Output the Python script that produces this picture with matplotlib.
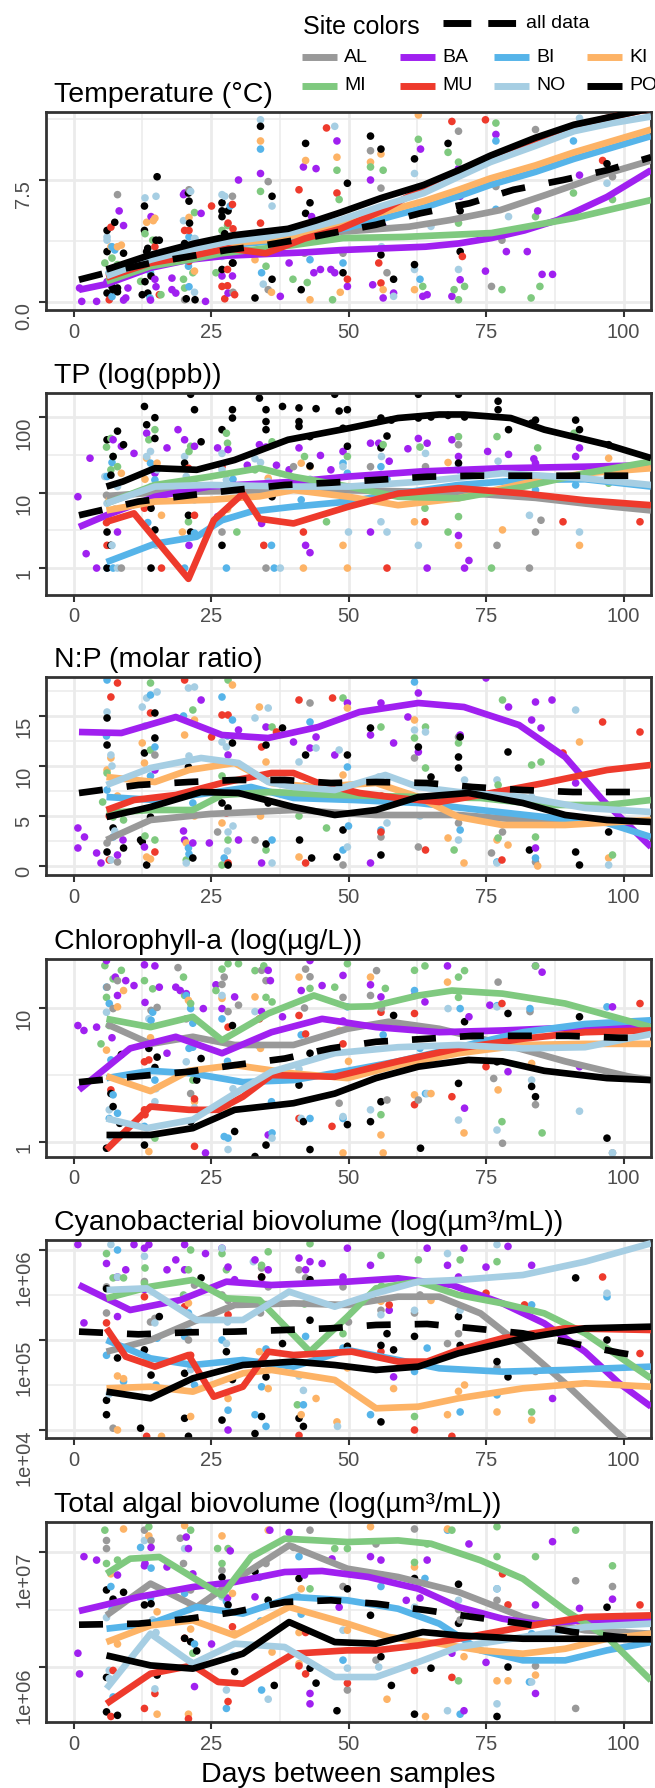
import numpy as np
import matplotlib
matplotlib.use("Agg")
import matplotlib.pyplot as plt
from matplotlib.lines import Line2D
from matplotlib.ticker import FixedLocator, NullFormatter

plt.rcParams['font.family'] = ['Liberation Sans', 'DejaVu Sans']

W, H = 655, 1788

sites = ["AL", "BA", "BI", "KI", "MI", "MU", "NO", "PO"]
site_colors = ["#999999", "#A020F0", "#56B4E9", "#FDB366",
               "#7FC97F", "#EE3A2C", "#A6CEE3", "#000000"]

# ---------------- Temperature (deg C) ----------------
temp_points = {
    "AL": [(8, 6.6), (35.4, 7.4), (35.4, 0.76), (49, 3.0), (54, 9.3), (55.9, 7.0), (70, 10.5), (76.8, 7.1),
           (77.9, 3.8), (76, 0.96), (84, 10.6), (98, 7.7), (28.9, 6.5), (20.2, 0.14)],
    "BA": [(1.5, 0.04), (4.2, 0.04), (1.1, 0.86), (9.1, 4.7), (9.5, 0.25), (9.9, 0.86), (8.3, 5.6), (14.1, 5.25),
           (14.8, 1.4), (17.9, 1.47), (20.2, 6.7), (19.4, 2.7), (18.6, 0.55), (24, 0.04), (23.2, 5.45), (17.9, 0.76),
           (28.9, 1.6), (28.1, 0.55), (30, 7.5), (34, 7.9), (37.6, 0.35), (39.2, 2.4), (41.8, 8.3), (44.1, 8.2),
           (43.3, 5.25), (43.7, 1.8), (44.9, 2.0), (46.8, 2.0), (47.9, 9.9), (47.5, 1.8), (49.8, 0.96), (54, 7.5),
           (56.3, 4.65), (54.4, 1.06), (56.3, 0.25), (58.2, 0.55), (63.1, 9.4), (63.5, 0.35), (64.3, 0.45),
           (70, 8.2), (70.3, 6.5), (70.3, 1.37), (68.8, 0.35), (76.8, 10.3), (78.7, 3.1), (74.9, 1.9), (82.5, 3.1),
           (85.2, 1.7), (87.1, 1.7), (84.4, 5.6), (92, 7.8)],
    "BI": [(6.5, 1.8), (13.9, 0.25), (20.9, 2.2), (34, 9.4), (34.2, 1.8), (43, 2.6), (76.8, 9.9), (76.8, 5.7),
           (90.9, 9.9), (7.5, 3.2), (21, 4.0)],
    "KI": [(6.8, 3.4), (8.7, 3.5), (13.3, 4.9), (14.8, 5.15), (27.8, 3.8), (34, 9.9), (33, 2.6), (42.2, 8.7),
           (43, 0.14), (47.9, 8.9), (54, 8.6), (55.9, 9.1), (56.3, 0.76), (62.7, 11.5), (62, 0.76), (21, 5.2)],
    "MI": [(5.7, 2.4), (14.4, 3.8), (12.2, 1.27), (15.9, 0.45), (21.7, 1.8), (20.2, 0.86), (27, 4.4), (25.9, 1.8),
           (34, 6.8), (39.9, 1.4), (47.9, 8.1), (48.3, 6.3), (47.1, 0.14), (54, 8.3), (56.3, 8.1), (62.7, 10),
           (63.5, 0.96), (68.1, 9.2), (70, 8.6), (70, 4.85), (69.2, 0.76), (70, 0.14), (71.1, 0.96), (76.8, 11.0),
           (77.9, 0.76), (84, 5.25), (84.8, 0.96), (83.2, 0.25), (90.9, 6.7), (98, 6.3)],
    "MU": [(6.8, 4.6), (6.5, 0.14), (14.8, 3.4), (12.9, 2.2), (15.6, 0.45), (20.2, 4.4), (25.1, 5.9), (28.9, 6.0),
           (28.1, 4.85), (27, 0.96), (29.3, 0.45), (34, 4.85), (41, 6.9), (47.9, 6.7), (46, 10.7), (49.8, 1.4),
           (55.5, 2.4), (55.9, 1.17), (70.7, 2.8), (68.8, 11.1), (74.9, 11.2), (96.2, 8.7)],
    "NO": [(6.1, 3.8), (15, 6.5), (21.3, 6.8), (22.1, 3.9), (27, 6.6), (34, 11.2), (36.1, 5.9), (47.5, 10.8),
           (58.2, 0.35), (62, 7.9), (65, 4.65), (62, 2.0), (79.1, 5.25), (92, 11.3), (97, 7.3)],
    "PO": [(6.1, 4.4), (9.1, 3.0), (7.2, 0.76), (8, 0.86), (6.1, 0.55), (7.5, 4.9), (12.9, 5.9), (15.2, 7.7),
           (12.9, 4.4), (13.3, 3.1), (15.6, 3.8), (14.1, 1.6), (12.5, 0.45), (20.9, 6.7), (21.1, 4.85), (20.2, 3.6),
           (22.1, 0.14), (27, 6.1), (28.1, 5.6), (27, 5.25), (28.9, 2.4), (27, 2.0), (34, 10.8), (36.1, 6.5),
           (36.1, 1.4), (33, 0.25), (42.2, 9.75), (43, 6.1), (42.2, 5.45), (41.4, 0.76), (49.8, 7.3), (49, 1.8),
           (54, 10.2), (55.9, 9.4), (55.9, 2.9), (58.2, 1.4), (62, 8.8), (62, 2.3), (68.1, 9.75), (70.3, 5.6),
           (70.3, 3.1), (97, 8.5)],
}
temp_points_extra = [
    (6.1, 4.0, "NO"), (7, 3.4, "BI"), (8, 3.4, "KI"), (6.1, 3.1, "PO"), (7, 2.7, "MI"), (8, 2.3, "MI"),
    (9.1, 1.8, "KI"), (6.1, 1.25, "BA"), (7, 0.94, "PO"), (8, 0.63, "PO"), (7, 0.33, "BI"), (9.1, 0.12, "BA"),
    (13, 6.4, "NO"), (14.5, 5.0, "KI"), (13, 4.2, "MI"), (15, 3.8, "PO"), (13.5, 3.3, "PO"), (15, 2.8, "NO"),
    (13, 2.2, "BI"), (14, 1.8, "BI"), (13, 1.25, "PO"), (15, 0.94, "BA"), (13.5, 0.55, "PO"), (14, 0.12, "BA"),
    (21, 6.9, "AL"), (20, 6.6, "BA"), (21, 6.2, "PO"), (22, 5.5, "MI"), (20, 5.0, "NO"), (21, 4.4, "MU"),
    (22, 3.9, "NO"), (20, 3.0, "PO"), (21, 2.5, "MU"), (22, 1.9, "KI"), (20, 1.4, "MI"), (21, 0.94, "BI"),
    (22, 0.6, "NO"), (20.5, 0.2, "PO"), (27.5, 6.5, "NO"), (28.5, 5.9, "BI"), (27, 5.6, "PO"), (28, 4.7, "MI"),
    (29, 4.5, "MU"), (27.5, 4.2, "PO"), (28, 3.3, "KI"), (27, 2.8, "NO"), (29, 2.4, "PO"), (28, 2.0, "MU"),
    (27, 1.6, "BA"), (28, 1.0, "MU"), (29, 0.6, "AL"), (27.5, 0.2, "MU"), (35, 2.2, "MI"), (34.5, 1.1, "NO"),
    (36, 0.6, "KI"), (42, 3.0, "AL"), (42.5, 1.2, "MI"), (49, 2.4, "BI"), (48.5, 0.6, "KI"), (56, 3.4, "NO"),
    (57, 1.8, "AL"), (63, 1.4, "BI"), (70, 2.0, "NO")]
temp_lines = {
    "AL": [(6, 1.9), (14, 2.8), (21, 3.3), (28, 3.7), (35, 3.9), (42, 4.2), (50, 4.35), (61, 4.63), (68.5, 5.04),
           (77.6, 5.65), (86, 6.6), (97, 7.9), (105, 8.7)],
    "BA": [(1, 0.75), (6, 1.1), (14, 2.1), (21, 2.6), (28, 2.85), (35, 2.95), (42, 3.05), (49, 3.2), (64, 3.4),
           (70, 3.6), (76, 3.93), (82, 4.4), (88, 5.04), (97, 6.46), (105, 8.1)],
    "BI": [(6, 1.6), (14, 2.5), (21, 3.0), (28, 3.5), (35, 3.7), (42, 4.0), (49, 4.5), (56, 5.1), (63.7, 5.8),
           (70, 6.5), (75.8, 7.2), (84, 8.0), (91, 8.8), (98, 9.5), (105, 10.2)],
    "KI": [(6, 1.6), (14, 2.5), (21, 3.0), (28, 3.6), (35, 3.8), (42, 4.2), (49, 4.8), (56, 5.5), (63.7, 6.2),
           (70, 6.9), (75.8, 7.6), (84, 8.4), (91, 9.2), (98, 9.9), (105, 10.6)],
    "MI": [(6, 1.27), (14, 2.2), (21, 2.6), (27, 3.0), (35, 3.3), (40, 3.5), (49, 3.93), (60, 4.0), (76, 4.24),
           (91, 5.16), (105, 6.27)],
    "MU": [(6, 1.5), (14, 2.4), (21, 2.8), (28, 3.3), (35, 3.0), (42, 3.9), (48.5, 4.5), (56, 5.6), (63.7, 7.0),
           (70, 8.0), (76, 8.9), (84, 10.0), (91, 10.8), (98, 11.4), (105, 11.9)],
    "NO": [(6, 1.6), (14, 2.6), (21, 3.2), (28, 3.7), (35, 4.0), (40, 4.3), (48.5, 5.04), (56, 5.9), (63.7, 6.7),
           (70, 7.7), (75.8, 8.6), (84, 9.6), (91, 10.5), (98, 11.0), (105, 11.4)],
    "PO": [(6, 2.0), (14, 2.9), (22, 3.6), (29, 4.1), (39, 4.5), (44, 5.0), (48.5, 5.5), (56, 6.4), (63.7, 7.2),
           (70, 8.1), (75.8, 9.0), (84, 10.1), (91, 10.9), (98, 11.4), (105, 11.9)],
}
temp_all = [(1, 1.37), (6, 1.8), (14, 2.4), (21, 2.8), (28, 3.2), (35, 3.5), (42, 3.9), (48, 4.3), (55, 4.75),
            (63, 5.45), (72, 6.07), (80, 6.9), (89, 7.5), (97, 8.1), (105, 8.9)]

# ---------------- TP (ppb, log axis) ----------------
tp_points = {
    "AL": [(6, 9.2), (8.7, 1), (27, 3), (35, 1), (40, 22), (54, 22), (64, 22), (70, 43), (77, 2), (82.9, 1),
           (84, 3), (85, 4.3)],
    "BA": [(0.8, 8.8), (2.3, 1.55), (3, 28.5), (4.2, 1), (7.2, 50), (8.7, 41), (11, 33), (13.3, 61), (14.8, 18),
           (17, 39), (19, 68), (20.2, 50), (20.2, 8.8), (22, 41), (26.2, 39), (26.2, 4.8), (28.1, 37), (31.6, 23),
           (33.8, 43), (34.2, 3.9), (36.9, 23), (39.2, 20), (41, 39), (42.2, 2), (43, 1.6), (44.9, 31), (46.8, 20),
           (54, 45), (54, 3), (55.5, 45), (57.4, 26), (60.8, 38), (62.7, 52), (64.3, 45), (68.8, 50), (70, 2.7),
           (71.1, 1), (71.9, 1.26), (75.3, 35), (79.1, 32), (84, 24.5), (83.7, 28), (92, 39), (91.3, 30), (64.3, 1)],
    "BI": [(6.1, 16.3), (6.1, 1), (7.2, 1), (14, 24.5), (14.8, 14.7), (20.2, 1), (22, 2.9), (27.8, 1), (36, 2),
           (36.5, 1), (41.4, 8), (43, 13.2), (49, 24.5), (49.8, 18), (55.9, 22), (62.7, 18), (70, 20), (84, 10.8),
           (91.3, 12.6)],
    "KI": [(8.7, 18), (13.3, 28.5), (15.2, 24.5), (16, 5), (19.8, 3), (27, 4.8), (35.4, 15.5), (41.4, 24.5),
           (43, 22), (41.8, 1), (49, 2), (49.8, 1), (62, 4.1), (68.1, 25), (70, 2), (78, 3.2), (92, 2), (97.3, 28.5)],
    "MI": [(6.8, 52), (7.2, 30), (6.8, 20), (8, 22), (13.7, 50), (14.8, 68), (21.3, 41), (20.9, 4.1), (27.8, 61),
           (29.7, 3), (33, 20), (36.1, 47), (46, 4.1), (49.8, 30), (56.3, 43), (63.9, 6.2), (68.1, 3), (70, 4.8),
           (70, 55), (76, 1), (77, 55), (84.4, 39), (91, 61), (97.3, 13.3)],
    "MU": [(6.1, 2), (12.9, 6.2), (20.9, 21), (22, 5), (16, 1), (27, 22), (34.6, 2), (41.8, 3), (57, 1),
           (63.9, 4.1), (89, 4.1), (103, 4.1)],
    "NO": [(5.7, 16.3), (6.1, 7.2), (8, 1), (13.3, 30), (14.1, 12), (15.2, 20), (20.2, 30), (20.5, 16.3),
           (22.1, 10.2), (27, 33), (27.8, 14.7), (33, 28), (35.4, 14), (37.6, 1), (49, 22), (50, 3), (55.5, 16.3),
           (55.9, 4.1), (57, 3), (62.7, 2), (64, 33), (70, 22), (77.2, 26), (82.9, 5), (92, 3), (97, 16.3)],
    "PO": [(12.9, 138), (13.3, 79), (14.8, 98), (14.8, 52), (6.1, 50), (8, 65), (9.1, 43), (7.2, 30), (6.8, 17),
           (6.1, 3), (6.1, 1), (6.8, 2), (14.1, 1), (14.8, 3.2), (14.1, 6.2), (21.3, 200), (22, 125), (20.2, 24.5),
           (20.9, 5), (21.3, 3), (23.2, 47), (27, 68), (28.9, 125), (28.9, 97), (27, 2), (33.8, 178), (35, 125),
           (35, 87), (35, 68), (36.1, 8.8), (38, 138), (41, 132), (41, 87), (41, 75), (43, 22.5), (44.1, 129),
           (43, 55), (47.5, 200), (48.3, 120), (49.8, 125), (49.8, 41), (49, 71), (55.9, 97), (55.9, 39),
           (57.8, 91), (57, 56), (62.7, 97), (62.7, 200), (65, 100), (68.1, 105), (70, 200), (71.1, 100),
           (70, 24.5), (77.2, 162), (77.2, 125), (79.1, 68), (83.3, 83), (84, 91), (91.3, 91), (92, 68), (97.3, 43)],
}
tp_points_extra = [
    (6, 40, "MI"), (7, 25, "BI"), (8, 12, "NO"), (6.5, 8, "KI"), (7.5, 6, "AL"), (6, 4, "MU"), (8, 3, "BA"),
    (7, 2, "NO"), (14, 35, "NO"), (13, 15, "KI"), (15, 10, "AL"), (14, 7, "MU"), (13.5, 4, "BI"), (15, 2, "NO"),
    (21, 35, "MI"), (20, 12, "KI"), (22, 8, "NO"), (21, 2, "BA"), (28, 45, "MI"), (27, 20, "NO"), (29, 15, "BI"),
    (28, 6, "KI"), (35, 40, "BA"), (34, 25, "NO"), (36, 12, "AL"), (42, 30, "MI"), (43, 15, "NO"), (49, 35, "BA"),
    (50, 12, "KI"), (56, 30, "NO"), (57, 15, "BI"), (63, 40, "MI"), (70, 30, "BA"), (77, 20, "NO"), (84, 15, "BI")]
tp_lines = {
    "AL": [(6, 9), (14.8, 10), (28, 10.5), (42, 11), (56, 10.5), (70, 10), (84, 8.5), (98, 6.5), (105, 5.8)],
    "BA": [(1, 3.5), (6, 5.0), (14.8, 8.8), (24.7, 12), (40, 13.9), (50, 16.3), (63, 19), (78, 21), (93, 22),
           (105, 23)],
    "BI": [(6, 1.2), (14.8, 2.1), (22.4, 2.6), (27, 4.3), (32.3, 5.6), (40, 6.5), (50, 7.6), (59, 9.7), (70, 12.6),
           (82, 14.7), (93, 15), (105, 12)],
    "KI": [(6, 5.8), (14.8, 7.6), (24.7, 8), (33.8, 8.9), (40, 10.8), (50, 8.8), (59, 6.8), (70, 8.4), (82, 13.2),
           (93, 18), (105, 21)],
    "MI": [(6, 7.2), (14.8, 12.6), (24.7, 16.2), (33.8, 21), (40, 16.2), (50, 12), (59, 8.8), (70, 8.4), (82, 12),
           (93, 18), (105, 25.7)],
    "MU": [(6, 4.1), (11, 5.3), (20.9, 0.72), (25.5, 4.3), (30.8, 9.7), (33.8, 4.5), (40, 3.9), (50, 6.5),
           (59, 9.7), (70, 11.4), (82, 9.7), (93, 7.9), (105, 6.8)],
    "NO": [(6, 7.2), (14.8, 12), (24.7, 12.6), (40, 12), (50, 12), (63, 13.9), (78, 18), (93, 15.4), (105, 12.6)],
    "PO": [(6, 12), (9, 14), (14.8, 21), (22.4, 20), (29.3, 27), (39, 50), (50, 71), (59, 97), (66.5, 108),
           (71, 108), (79.5, 97), (85.6, 68), (97, 43), (105, 28.6)],
}
tp_all = [(1, 5), (11.8, 7.6), (21.7, 9.3), (29.3, 10.8), (38.4, 12.6), (46.8, 13.5), (55, 14.7), (64.3, 16.2),
          (72.6, 16.7), (105, 16.7)]

# ---------------- N:P (molar ratio) ----------------
np_points = {
    "AL": [(6.1, 2.3), (8, 0.4), (14.8, 11.1), (26.2, 3.4), (28.1, 7.4), (33, 2.6), (43, 16.3), (49, 0.1),
           (55.9, 2.9), (62, 10.8), (62.7, 1.9), (70, 12.9), (70, 4.3), (76, 1.3), (78, 3.4), (84, 0.4)],
    "BA": [(0.8, 3.8), (0.8, 1.8), (2, 2.9), (4.2, 1.3), (5, 0.3), (8, 1.1), (9, 2.6), (12.9, 1.9), (14.8, 9.6),
           (20.2, 2.6), (21.7, 2.3), (23.2, 16.6), (24.7, 2.3), (28.1, 11.1), (30, 13.6), (30, 2.6), (34.2, 0.3),
           (35, 13.9), (40, 12.4), (43, 11.8), (44.1, 12.9), (47.5, 11.1), (49.8, 16.3), (54, 13.1), (54, 0.3),
           (55.9, 16.3), (58.2, 12.3), (60.8, 14.9), (62.7, 17.3), (62.7, 11.4), (70.3, 13.1), (75, 18.8),
           (79.1, 15.9), (83.3, 14.6), (84, 16.4), (85, 13.8), (87, 16.6), (91.3, 8.3), (84, 1.8)],
    "BI": [(6.1, 18.6), (6.1, 7.6), (7.2, 2.9), (14, 17.1), (14.8, 11.9), (20.9, 1.8), (21.7, 6.3), (27, 16.9),
           (28.9, 14.6), (27.4, 0.8), (36.1, 2.6), (43, 14.4), (49, 1.6), (49.8, 9.9), (62, 18.4), (55.9, 3.6),
           (70.3, 3.6), (84, 0.8), (77, 0.4)],
    "KI": [(6.8, 10.8), (6.1, 9.6), (12.5, 12.3), (12.9, 10.3), (13.3, 0.9), (20.2, 13.1), (22, 14.6),
           (20.5, 2.3), (27, 4.3), (28.9, 18.1), (33.8, 15.9), (35, 10.4), (41, 0.9), (49, 9.1), (49.8, 15.8),
           (62, 14.6), (68.1, 2.8), (71, 0.3), (77, 2.6), (79, 2.1), (84.4, 0), (92, 12.4), (97.3, 0.8)],
    "MI": [(5.3, 6.4), (6.1, 9.3), (7.2, 4.9), (9.1, 4.6), (14, 18.3), (14, 11.6), (14.8, 2.6), (21.7, 15.6),
           (20.5, 0.6), (28.1, 18.6), (28.1, 2.6), (27, 0.1), (36.1, 13.9), (35, 1.6), (46, 3.8), (49, 16.8),
           (55.9, 13.9), (62, 12.8), (64, 13.9), (64, 9.8), (70, 12.3), (69.2, 1.6), (78, 16.6), (77.2, 8.1),
           (77.2, 2.8), (83.3, 10.1), (85, 10.4), (84, 2.9), (98, 1.1)],
    "MU": [(6.8, 16.9), (8, 18.3), (14, 15.3), (14.8, 1.4), (20.2, 18.6), (27, 15.1), (28.1, 15.1), (27.8, 5.3),
           (28.1, 0.3), (25.1, 12.9), (34.2, 11.9), (36.9, 13.4), (41, 16.6), (42.2, 0.3), (47.1, 16.8),
           (55.9, 3.4), (64, 1.6), (77.9, 0.6), (89, 11.3), (96.2, 14.4), (103, 13.4)],
    "NO": [(6.1, 15.4), (6.8, 11.1), (6.8, 0.6), (12.5, 15.9), (13.3, 16.8), (15.2, 17.4), (20.9, 17.8),
           (22, 17.9), (20.5, 0.3), (27, 12.4), (27.8, 11.9), (28.1, 3.4), (33, 14.8), (35.4, 15.8), (36.1, 0.3),
           (41, 10.4), (44.1, 11.8), (48.3, 11.6), (49.8, 1.9), (55.5, 8.9), (57, 4.3), (62, 13.6), (64, 13.4),
           (70, 2.6), (71.1, 8.6), (77, 8.6), (77, 0.3), (83.3, 6.9), (91.3, 15.6), (97.3, 0.1)],
    "PO": [(6.1, 14.8), (6.1, 12.1), (7.2, 3.8), (6.1, 1.4), (9.1, 1.8), (14.8, 15.3), (14.8, 12.8), (12.9, 11.3),
           (14, 4.9), (12.5, 2.4), (13.3, 0.1), (12.2, 2.6), (20.9, 9.9), (20.9, 7.3), (21.7, 0.8), (28.9, 12.3),
           (27, 6.3), (28.1, 5.8), (28.1, 0.1), (35, 12.1), (35.4, 6.3), (38, 13.8), (41.1, 2.6), (42.2, 11.1),
           (43.3, 0.8), (47.9, 0.9), (49, 3.6), (49.8, 11.1), (54, 13.8), (55.9, 1.1), (62.7, 11.9), (65, 8.9),
           (70, 10.9), (70, 9.8), (70.3, 12.9), (79, 11.4), (82.9, 1.6), (91.3, 1.4), (92, 0.1), (97.3, 3.4)],
}
np_points_extra = [
    (6, 13, "BI"), (7, 10, "NO"), (8, 7, "KI"), (6.5, 5, "MU"), (7.5, 3.5, "NO"), (13, 14, "NO"), (14, 9, "BI"),
    (15, 6, "AL"), (13, 3, "MI"), (20, 15, "BI"), (21, 11, "NO"), (22, 5, "KI"), (20, 3.5, "BA"), (28, 13, "BI"),
    (27, 9, "MI"), (29, 4, "NO"), (35, 9, "NO"), (34, 5, "KI"), (42, 8, "BI"), (41, 5, "MI"), (49, 7, "NO"),
    (50, 4, "BI"), (56, 7, "MU"), (63, 5, "NO"), (70, 7, "KI"), (6.5, 0.6, "MU"), (14, 0.7, "KI"),
    (21, 1.2, "BI"), (28, 1.5, "NO"), (35, 2.2, "PO")]
np_lines = {
    "AL": [(6, 2.6), (14, 4.6), (24.7, 5.2), (40, 5.6), (55, 5.1), (70, 5.1), (82, 4.6), (105, 4.5)],
    "BA": [(1, 13.4), (8.7, 13.3), (18.6, 14.9), (27, 13.1), (35.4, 12.8), (44.5, 13.9), (52, 15.4), (62.7, 16.3),
           (71, 15.9), (81, 14.1), (89.4, 10.9), (96.2, 6.6), (105, 1.9)],
    "BI": [(6, 6.9), (14.8, 6.6), (24.7, 7.3), (32.3, 7.9), (40, 6.8), (51, 6.6), (62.7, 6.3), (74, 5.6),
           (85.6, 4.9), (97, 4.3), (105, 2.9)],
    "KI": [(6, 8.9), (14.8, 8.4), (21, 9.6), (29.3, 10.3), (36, 8.3), (43.7, 7.9), (55, 8.3), (62.7, 6.9),
           (70, 4.9), (78, 4.1), (89.4, 4.1), (105, 4.6)],
    "MI": [(6, 5.3), (14, 5.6), (21.7, 5.6), (27, 7.1), (36, 7.4), (47.5, 7.1), (62.7, 6.9), (74, 6.8),
           (85.6, 6.1), (97, 6.1), (105, 6.6)],
    "MU": [(6, 5.6), (11, 6.6), (18.6, 7.1), (27, 8.3), (36, 9.3), (40, 9.3), (44.5, 8.3), (52, 7.3), (59, 6.8),
           (66.5, 6.4), (74, 7.1), (85.6, 8.3), (97, 9.6), (105, 10.1)],
    "NO": [(6, 8.1), (14, 9.8), (23.2, 10.8), (30, 10.3), (35.4, 8.4), (40, 7.9), (47.5, 7.6), (56.7, 9.1),
           (62.7, 7.9), (70, 7.4), (81.7, 6.9), (93, 5.8), (105, 5.4)],
    "PO": [(6, 4.9), (14, 5.9), (23.2, 7.4), (30, 7.3), (40, 5.9), (47.5, 5.1), (55, 5.6), (62.7, 6.9),
           (71.8, 7.3), (81.7, 6.3), (89.4, 5.1), (97, 4.6), (105, 4.4)],
}
np_all = [(1, 7.3), (11.8, 8.1), (21, 8.4), (29.3, 8.6), (38.4, 8.6), (46.8, 8.3), (55, 8.4), (64.3, 8.3),
          (72.6, 7.9), (81.7, 7.6), (90.8, 7.4), (105, 7.4)]

# ---------------- Chlorophyll-a (ug/L, log axis) ----------------
chl_points = {
    "AL": [(6.1, 14.3), (7.2, 9.9), (8, 16), (14.1, 9.6), (15.2, 10.1), (19, 20), (20.5, 8.3), (21.3, 2.3),
           (27.4, 17), (28.1, 9.4), (30, 10.5), (34.2, 19.1), (35, 16), (42.2, 19.5), (43, 17.1), (49, 12),
           (48.3, 1.95), (54, 12.4), (55.1, 19), (57, 2.06), (62.7, 2.06), (71.1, 6.6), (77.2, 15.6), (78, 0.98),
           (83, 9.4), (84, 1.9), (98, 0.83), (76.4, 2.98)],
    "BA": [(0.8, 7.4), (1.9, 6.8), (4.2, 7.2), (6, 22.6), (7.6, 17), (8, 12.4), (9.5, 16), (11, 14.7), (12.9, 21),
           (14.8, 20.6), (15.6, 14.3), (17, 4.6), (18.6, 14.3), (19.4, 13.5), (20.5, 12.8), (23.6, 9.9), (24, 0.83),
           (25.9, 14.9), (27, 9.9), (29.3, 12.1), (34.2, 9.4), (35.4, 19.1), (35.8, 16), (35.4, 1.13), (38, 8.6),
           (41.4, 13.5), (43, 22.6), (45.2, 14.7), (49, 17.5), (54, 14.9), (55.9, 12.1), (62, 12.4), (63.9, 11.1),
           (68, 20.6), (71.9, 8.6), (71.1, 1.79), (75.7, 10.5), (79, 3.35), (84, 20.6), (85.2, 18.5), (98, 10.2),
           (92, 3.65)],
    "BI": [(6, 14.3), (6.5, 10.8), (6.8, 4.1), (7.2, 2.25), (8, 1.64), (12.9, 1.31), (14.1, 8.1), (14.4, 9.3),
           (14.8, 2.9), (20.5, 12.4), (21.3, 9.9), (21.7, 7.7), (21.7, 5.1), (27, 8.3), (27.4, 1.1), (28.1, 1.07),
           (33.5, 5.3), (36.1, 1.17), (41.4, 6.3), (43, 1.5), (49.8, 10.2), (49, 1.5), (56.3, 6.3), (62, 13.5),
           (64, 2.3), (70.3, 9.9), (77, 10.4), (83, 9.9), (97, 10.2)],
    "KI": [(6, 4.85), (8, 10.2), (9.1, 13.5), (13.7, 0.85), (20.9, 11.4), (22, 2.0), (27, 11.8), (28.1, 1.74),
           (33, 12.1), (41, 17), (48.3, 6.8), (49, 0.83), (54, 17), (55.9, 1.13), (56.3, 0.83), (62, 2.25),
           (65, 2.3), (68, 15.6), (71, 1.17), (77.2, 2.45), (83.3, 3.86)],
    "MI": [(5, 5.4), (5.7, 20.7), (6.5, 7.4), (7.2, 16.5), (8.7, 19.1), (12.9, 16), (14.4, 13.9), (14.8, 1.07),
           (20.2, 12.4), (21.3, 10.8), (21.7, 2.9), (25.9, 13.5), (27, 19.5), (28.1, 21.4), (30, 21.4), (33, 19),
           (34.6, 20.6), (36.1, 11.1), (43, 14), (47.5, 14.3), (49.8, 21.4), (55.9, 1.6), (56.7, 14), (62, 19.1),
           (63.9, 20.6), (70, 17), (71.1, 19), (77.9, 1.42), (84, 20.6), (85.2, 1.17)],
    "MU": [(6.8, 2.45), (12.9, 3.97), (13.7, 4.1), (12.9, 1.74), (22, 0.93), (22, 2.1), (28.1, 7.2), (33.8, 8.3),
           (41, 8.8), (42.2, 6.4), (41, 1.5), (47, 1.31), (49, 5.4), (55.9, 9.3), (62, 9.1), (62, 1.9), (68.8, 2.18),
           (77.9, 10.8), (75, 3.65), (103, 10.8)],
    "NO": [(6, 9.3), (6.5, 1.74), (6.8, 1.1), (13.7, 8.3), (14.8, 2.0), (20.5, 3.97), (21.3, 1.42), (27, 12.4),
           (28.1, 0.88), (33, 9.4), (36.1, 1.07), (41.4, 1.5), (49, 1.55), (54, 1.74), (62, 7.2), (64.3, 2.3),
           (68.1, 9.9), (70, 1.46), (77, 1.23), (77, 10.2), (83.3, 2.9), (92, 1.7), (98, 0.83)],
    "PO": [(6, 0.9), (6.8, 2.3), (7.2, 1.84), (8.4, 1.38), (8.7, 4.5), (12.9, 0.95), (13.7, 5), (15.2, 4.3),
           (14.8, 3.6), (21.3, 1.42), (22.4, 2.9), (23.2, 4.2), (27.8, 2.0), (28.9, 7.4), (29.3, 1.2), (33, 0.78),
           (35, 0.95), (41, 2.66), (41.8, 1.42), (43, 4.6), (43, 0.88), (49.8, 1.35), (54, 1.42), (55.9, 2.0),
           (58.2, 8.8), (63.1, 0.9), (70, 2.74), (71.1, 7.9), (77, 3.97), (79, 9.1), (84, 2.18), (92, 8.6),
           (97, 1.07), (83.3, 2.6)],
}
chl_points_extra = [
    (6, 12, "MI"), (7, 6, "BA"), (8, 3, "NO"), (6.5, 1.5, "BI"), (13, 11, "BA"), (14, 6, "KI"), (15, 2.5, "NO"),
    (13, 1.6, "MU"), (20, 17, "MI"), (21, 5, "BI"), (22, 1.8, "NO"), (27, 15, "AL"), (28, 4, "BI"),
    (29, 2.5, "NO"), (35, 12, "MI"), (34, 5, "KI"), (36, 2, "BI"), (42, 10, "AL"), (41, 3.5, "NO"), (49, 8, "BA"),
    (50, 4, "KI"), (56, 10, "AL"), (63, 5, "BI"), (70, 12, "MI")]
chl_lines = {
    "AL": [(6, 7.6), (14, 5.4), (21.7, 6.1), (29.3, 5.3), (40, 5.3), (49.8, 7.0), (57.3, 7.9), (66.5, 7.0),
           (78, 5.4), (89.4, 4.0), (100.7, 3.1), (105, 2.9)],
    "BA": [(1, 2.45), (10.3, 5.0), (18.6, 6.1), (27, 4.6), (36, 6.6), (45.2, 8.3), (55, 7.2), (66.5, 6.6),
           (78, 6.8), (93, 7.2), (105, 7.2)],
    "BI": [(6, 3.0), (14, 3.4), (21.7, 3.25), (30.8, 2.8), (40, 2.9), (49.8, 3.4), (59, 4.0), (70, 5.1),
           (81.7, 6.6), (93, 7.6), (105, 8.1)],
    "KI": [(6, 3.1), (14, 2.4), (21, 3.4), (29.3, 3.75), (40, 3.25), (49.8, 3.0), (59, 3.75), (70, 4.6),
           (81.7, 5.3), (93, 5.4), (105, 5.4)],
    "MI": [(6, 8.3), (14, 7.2), (21.7, 8.6), (27, 5.75), (35.4, 9.1), (43.7, 12.4), (49.8, 10.2), (54.4, 10.3),
           (62.7, 12.4), (68.8, 13.5), (78, 12.8), (89.4, 10.8), (105, 7.2)],
    "MU": [(6, 0.88), (14, 1.84), (21, 1.74), (26.3, 1.74), (30.8, 2.18), (36, 3.16), (47.5, 3.07), (59, 4.0),
           (70, 5.0), (81.7, 5.9), (93, 6.6), (105, 6.8)],
    "NO": [(6, 1.5), (13.3, 1.27), (21.7, 1.47), (29.3, 2.3), (36, 3.35), (47.5, 4.6), (59, 5.1), (70, 5.3),
           (81.7, 5.0), (93, 5.1), (105, 6.4)],
    "PO": [(6, 1.13), (14, 1.13), (21.7, 1.27), (29.3, 1.74), (40, 1.95), (47.5, 2.3), (55, 3.0), (62.7, 3.65),
           (71.8, 4.1), (78, 4.0), (85.6, 3.4), (97, 3.0), (105, 2.9)],
}
chl_all = [(1, 2.8), (11.8, 3.1), (21, 3.35), (29.3, 3.75), (38.4, 4.2), (46.8, 5.0), (55, 5.6), (64.3, 5.9),
           (72.6, 6.2), (90, 6.2), (99.2, 6.0), (105, 6.0)]

# ---------------- Cyanobacterial biovolume, log10(um3/mL) ----------------
cyano_points_log10 = {
    "AL": [(6, 5.59), (7.2, 4.02), (12.9, 5.65), (14.8, 5.24), (20.9, 5.0), (22, 5.61), (28.1, 5.44), (34.2, 5.8),
           (35.4, 5.59), (41, 5.78), (42.2, 5.69), (49, 5.59), (55.9, 5.33), (62, 5.3), (68, 4.96), (70, 5.07),
           (77, 4.69), (84, 4.65)],
    "BA": [(0.8, 6.06), (1.9, 5.19), (6, 5.85), (8, 5.7), (9.5, 5.78), (11, 6.06), (12.9, 6.02), (13.7, 6.06),
           (17, 5.78), (18.6, 5.89), (20.2, 6.06), (20.2, 5.78), (24, 5.96), (27, 6.02), (28.1, 5.81), (29.3, 5.67),
           (33, 5.89), (34.2, 5.69), (35.4, 5.78), (41, 5.91), (43, 5.87), (42.2, 5.78), (45.2, 5.85), (49.8, 6.02),
           (54, 5.83), (57.4, 5.33), (58.2, 4.59), (64.3, 6.02), (68, 5.83), (71, 6.02), (75, 5.81), (79, 6.04),
           (83.3, 5.83), (87.1, 4.35), (28.1, 4.0), (8, 5.26), (12.9, 5.56)],
    "BI": [(6, 4.83), (8, 6.0), (9.1, 4.54), (15.2, 5.02), (20.2, 5.04), (20.9, 5.3), (27, 5.0), (28.1, 4.22),
           (33, 4.17), (34.2, 4.48), (35, 4.04), (41.8, 4.28), (42.2, 5.04), (49, 4.91), (54, 4.17), (62, 4.65),
           (64.3, 4.91), (70.3, 4.2), (77, 4.39), (83.3, 5.39), (97, 5.48)],
    "KI": [(8, 4.0), (9.1, 4.57), (13.3, 4.78), (16, 3.93), (20.9, 5.41), (21.3, 4.15), (28.1, 4.35), (33.8, 4.87),
           (35.4, 4.46), (41.4, 4.17), (44.1, 4.35), (47.9, 4.09), (49.8, 4.69), (55.9, 5.43), (58.2, 4.46),
           (65, 5.44), (68, 4.17), (71.1, 4.5), (77, 4.2), (83.3, 4.11), (70, 4.43)],
    "MI": [(6, 5.96), (7.2, 5.69), (9.1, 5.69), (12.9, 5.63), (21.3, 6.0), (20.9, 5.78), (27.8, 5.78), (27, 5.96),
           (35.4, 5.98), (34.2, 5.83), (43, 6.07), (40.7, 4.28), (49, 5.07), (55.9, 5.94), (62.7, 5.89), (62, 4.15),
           (70.3, 5.89), (77, 5.87), (83.3, 4.2)],
    "MU": [(6, 5.19), (12.9, 5.48), (13.3, 3.93), (20.2, 5.37), (21.3, 4.83), (28.1, 5.28), (34.2, 5.7), (41, 3.94),
           (55.9, 4.87), (57.4, 5.39), (62, 4.0), (68.8, 3.93), (75, 5.52), (82, 5.39), (96.2, 5.7), (103, 4.85)],
    "NO": [(6.8, 6.06), (8, 5.7), (12.9, 5.93), (14.8, 5.19), (20.5, 5.48), (21.3, 4.67), (27, 6.02), (27.8, 4.96),
           (32.7, 5.87), (35.4, 4.67), (41.8, 4.44), (48, 4.04), (55.9, 5.28), (62, 5.33), (68, 5.96), (70.3, 5.33),
           (77, 6.06), (97, 5.52)],
    "PO": [(6, 5.57), (6, 4.33), (6, 4.17), (8, 4.8), (12.9, 4.89), (14.1, 4.61), (15.6, 5.26), (12.2, 4.02),
           (20.2, 4.63), (20.2, 4.13), (20.9, 3.93), (23.2, 5.69), (27.8, 4.87), (27, 4.11), (28.9, 4.56), (33, 3.96),
           (34.2, 5.7), (35, 4.59), (34.2, 4.15), (38, 4.96), (41, 4.13), (43, 5.67), (43, 5.22), (41.8, 4.04),
           (49.8, 4.93), (55.9, 4.94), (58.2, 4.89), (55.9, 4.09), (62, 5.04), (70.3, 4.94), (77, 4.76), (79, 4.59),
           (91.3, 5.69), (97, 5.0), (70, 5.26), (57, 5.07)],
}
cyano_points_extra_log10 = [
    (6, 5.3, "AL"), (7, 5.0, "BI"), (8, 4.6, "KI"), (6.5, 4.4, "NO"), (13, 5.8, "MI"), (14, 5.2, "AL"),
    (15, 4.5, "BI"), (20, 5.5, "MI"), (21, 5.1, "NO"), (22, 4.5, "BI"), (27, 5.5, "AL"), (28, 5.2, "NO"),
    (29, 4.7, "KI"), (34, 5.3, "AL"), (35, 4.9, "BI"), (42, 5.4, "MI"), (41, 4.6, "NO"), (49, 5.7, "BA"),
    (50, 5.2, "AL"), (56, 5.6, "MI"), (63, 5.5, "AL"), (70, 5.7, "BA")]
cyano_lines_log10 = {
    "AL": [(6, 4.87), (14, 5.0), (21.7, 5.2), (29.3, 5.389), (40, 5.407), (49.8, 5.389), (59, 5.481),
           (66.5, 5.481), (74, 5.296), (81.7, 4.926), (89.4, 4.519), (97.7, 4.037), (103, 3.74)],
    "BA": [(1, 5.611), (10.3, 5.333), (19.4, 5.444), (27.8, 5.648), (36, 5.611), (49.8, 5.648), (59, 5.685),
           (68.8, 5.611), (78, 5.407), (85.6, 5.185), (93, 4.87), (99.2, 4.52), (105, 4.26)],
    "BI": [(6, 5.0), (14, 4.796), (21.7, 4.722), (30.8, 4.778), (40, 4.704), (49.8, 4.889), (59, 4.778),
           (66.5, 4.685), (78, 4.648), (89.4, 4.667), (105, 4.704)],
    "KI": [(6, 4.463), (14, 4.481), (21.7, 4.426), (30.8, 4.63), (36, 4.667), (47.5, 4.556), (55, 4.241),
           (62.7, 4.259), (70, 4.352), (81.7, 4.463), (93, 4.519), (105, 4.481)],
    "MI": [(6, 5.463), (14, 5.593), (21.7, 5.667), (27.8, 5.463), (33.8, 5.444), (43, 4.87), (49.8, 5.259),
           (55, 5.574), (62.7, 5.648), (70, 5.5), (78, 5.407), (85.6, 5.296), (93, 5.074), (105, 4.574)],
    "MU": [(6, 5.13), (9.5, 4.815), (14.8, 4.704), (20.9, 4.833), (25.5, 4.37), (30.8, 4.481), (35.4, 4.87),
           (40, 4.833), (50.6, 4.87), (59, 4.76), (64.3, 4.76), (70, 4.889), (78, 5.019), (89.4, 5.13),
           (105, 5.111)],
    "NO": [(6, 5.556), (13.3, 5.574), (22.4, 5.222), (30.8, 5.222), (39.2, 5.537), (47.5, 5.37), (55, 5.519),
           (62.7, 5.648), (70, 5.667), (81.7, 5.722), (93, 5.87), (105, 6.074)],
    "PO": [(6, 4.426), (14, 4.352), (21.7, 4.574), (30.8, 4.722), (40, 4.76), (47.5, 4.722), (55, 4.667),
           (62.7, 4.704), (70, 4.852), (81.7, 5.019), (93, 5.13), (105, 5.148)],
}
cyano_all_log10 = [(1, 5.093), (11.8, 5.063), (21, 5.085), (29.3, 5.093), (38.4, 5.111), (46.8, 5.13),
                   (55, 5.167), (64.3, 5.178), (72.6, 5.13), (81.7, 5.074), (90.8, 4.963), (99.2, 4.859),
                   (105, 4.8)]

# ---------------- Total algal biovolume, log10(um3/mL) ----------------
algal_points_log10 = {
    "AL": [(6, 7.1), (6, 7.03), (6.8, 6.55), (12.9, 7.19), (14.1, 7.1), (19.4, 7.12), (21.3, 6.67), (27, 6.84),
           (28.1, 6.7), (40, 7.04), (43, 7.19), (49.8, 5.8), (55, 7.07), (55, 6.06), (62, 7.2), (70.3, 6.41),
           (77, 6.58), (84, 6.01), (91.3, 5.64), (91.3, 6.75), (98, 6.7)],
    "BA": [(1.9, 6.96), (4.2, 6.93), (0.8, 6.12), (1.1, 5.94), (8, 6.8), (12.9, 6.88), (14.1, 7.04), (17, 6.87),
           (20.5, 7.13), (20.9, 7.03), (21.7, 6.81), (22, 5.83), (25.1, 6.2), (28.5, 7.01), (33, 6.61), (35.7, 7.19),
           (39.2, 7.17), (43, 5.77), (43, 5.68), (47, 6.94), (48.3, 6.52), (54, 6.96), (55.9, 6.93), (60.5, 6.58),
           (64.3, 6.93), (68.8, 6.12), (71, 5.62), (71.9, 7.07), (75, 6.04), (84, 6.54), (84, 5.77), (87.1, 7.09),
           (92, 6.51), (98, 6.59)],
    "BI": [(6.8, 6.7), (7.2, 5.74), (12.2, 7.04), (14.1, 6.86), (20.2, 6.64), (21.3, 6.42), (27.8, 6.57),
           (27.8, 5.64), (33.8, 6.78), (34.2, 5.8), (41, 6.96), (41.4, 6.46), (49, 6.06), (55.9, 6.7), (63.9, 6.77),
           (68, 7.19), (70.3, 5.59), (77, 6.68), (82.9, 5.87), (83.3, 6.29), (97.3, 6.32)],
    "KI": [(6.8, 6.81), (9.1, 7.2), (13.7, 7.14), (15.2, 6.48), (15.2, 5.59), (20.2, 7.23), (21.3, 6.33),
           (20.9, 5.59), (27, 7.14), (28.9, 6.64), (29.3, 6.29), (35.4, 7.19), (36.1, 6.13), (41, 6.03),
           (41.4, 6.68), (49.8, 6.32), (54, 7.22), (57, 5.72), (62, 6.87), (64, 5.57), (68, 7.2), (71, 6.09),
           (77, 5.88), (79, 5.88), (84, 5.93), (92, 6.35)],
    "MI": [(5.7, 7.19), (8, 6.93), (13.7, 7.22), (21.3, 7.19), (21.7, 6.12), (26.2, 7.03), (28.1, 7.03),
           (35.4, 6.58), (43, 6.68), (47.5, 7.03), (49.8, 7.03), (62, 6.91), (64.3, 7.07), (68.8, 7.19), (70, 5.88),
           (77, 6.96), (77, 7.22), (84, 6.96), (91.3, 7.19), (98, 6.88)],
    "MU": [(6.8, 5.57), (7.2, 5.97), (12.9, 5.64), (14.8, 5.77), (15.2, 5.94), (20.2, 6.25), (20.9, 5.55),
           (28.1, 5.7), (28.9, 6.35), (41, 6.01), (42.2, 6.3), (42.2, 5.94), (49.8, 5.86), (62, 5.97), (68.8, 5.91),
           (79, 6.54), (103, 6.54), (78, 6.81)],
    "NO": [(6, 6.43), (6.5, 5.97), (12.9, 7.1), (14.4, 6.41), (14.8, 5.81), (20.2, 7.03), (21.3, 6.04), (27, 6.61),
           (27.8, 5.8), (35.4, 5.72), (40.7, 6.62), (49, 6.32), (49.8, 5.99), (55.5, 6.0), (62, 6.52), (68, 5.62),
           (70, 6.58), (77, 6.68), (77, 5.68), (83.3, 5.87), (98, 6.23)],
    "PO": [(6, 6.67), (6, 5.91), (6, 5.61), (7.2, 6.59), (8, 5.58), (9.1, 6.65), (12.9, 6.54), (14.1, 6.55),
           (15.2, 5.93), (20.2, 6.25), (21.3, 6.22), (22.4, 6.14), (27, 6.78), (28.1, 6.54), (29.3, 5.96), (33, 6.83),
           (35.4, 6.58), (36.5, 5.84), (41, 6.77), (43, 5.99), (44.1, 5.86), (47.9, 5.62), (49.8, 6.68), (54, 6.45),
           (55.9, 6.09), (57.8, 5.84), (62, 6.77), (62, 5.59), (65, 5.99), (70, 6.72), (70, 6.38), (77, 5.57),
           (79, 6.0), (97, 6.52)],
}
algal_points_extra_log10 = [
    (6, 6.9, "MI"), (7, 6.5, "BI"), (8, 6.2, "KI"), (6.5, 5.9, "NO"), (13, 6.9, "BA"), (14, 6.6, "BI"),
    (15, 6.3, "NO"), (20, 6.9, "AL"), (21, 6.5, "KI"), (22, 6.2, "BI"), (27, 6.9, "MI"), (28, 6.6, "BA"),
    (29, 6.1, "NO"), (35, 6.9, "AL"), (34, 6.4, "BI"), (42, 6.8, "BA"), (41, 6.3, "KI"), (49, 6.7, "AL"),
    (56, 6.8, "MI"), (63, 6.6, "BA"), (70, 6.5, "AL")]
algal_lines_log10 = {
    "AL": [(6, 6.449), (14, 6.725), (22.4, 6.522), (29.3, 6.754), (39.2, 7.058), (49.8, 6.855), (59, 6.783),
           (70, 6.652), (81.7, 6.435), (93, 6.319), (105, 6.29)],
    "BA": [(1, 6.487), (11.8, 6.609), (21.7, 6.696), (29.3, 6.739), (38.4, 6.826), (45.2, 6.835), (53.6, 6.783),
           (62.7, 6.681), (70, 6.522), (78, 6.42), (84, 6.377), (93, 6.406), (105, 6.412)],
    "BI": [(6, 6.333), (14, 6.377), (22.4, 6.522), (30.8, 6.464), (40, 6.609), (49.8, 6.58), (59, 6.507),
           (66.5, 6.377), (74, 6.145), (81.7, 6.058), (89.4, 6.058), (97, 6.145), (105, 6.217)],
    "KI": [(6, 6.217), (14, 6.362), (21.7, 6.406), (29.3, 6.275), (39.2, 6.522), (49.8, 6.377), (57.3, 6.261),
           (66.5, 6.203), (74, 6.145), (81.7, 6.116), (89.4, 6.159), (97, 6.246), (105, 6.29)],
    "MI": [(6, 6.812), (10.3, 6.942), (15.6, 6.957), (27, 6.623), (32.3, 6.957), (38.4, 7.116), (49.8, 7.087),
           (59, 7.101), (65, 7.072), (74, 6.928), (81.7, 6.768), (89.4, 6.493), (97, 6.261), (105, 5.884)],
    "MU": [(6, 5.681), (14, 5.942), (21.7, 6.014), (26.3, 5.87), (30.8, 5.855), (40, 6.116), (49.8, 6.145),
           (55, 6.145), (62.7, 6.188), (70, 6.246), (81.7, 6.348), (93, 6.435), (105, 6.449)],
    "NO": [(6, 5.812), (14, 6.29), (21.7, 6.029), (29.3, 6.203), (38.4, 6.174), (47.5, 5.913), (55, 5.913),
           (62.7, 6.043), (70, 6.174), (81.7, 6.261), (93, 6.348), (105, 6.377)],
    "PO": [(6, 6.101), (14, 6.014), (21.7, 5.986), (30.8, 6.116), (39.2, 6.391), (47.5, 6.217), (55, 6.203),
           (63.5, 6.304), (70, 6.275), (81.7, 6.246), (93, 6.246), (105, 6.241)],
}
algal_all_log10 = [(1, 6.368), (11.8, 6.377), (21, 6.42), (29.3, 6.478), (38.4, 6.565), (46.8, 6.58),
                   (55, 6.551), (64.3, 6.493), (72.6, 6.435), (81.7, 6.377), (90.8, 6.304), (99.2, 6.261),
                   (105, 6.24)]


def merge(d, extra):
    out = {k: list(v) for k, v in d.items()}
    for day, val, site in extra:
        out[site].append((day, val))
    return out


def unlog(d):
    # values as log10; back to raw units
    if isinstance(d, dict):
        return {k: [(x, 10 ** v) for x, v in pts] for k, pts in d.items()}
    return [(x, 10 ** v) for x, v in d]


panels = [
    dict(title="Temperature (°C)", pts=merge(temp_points, temp_points_extra), lines=temp_lines, all=temp_all,
         log=False, box=(112, 310), ylim=(-0.49, 11.68), ticks=[0, 7.5], labels=["0.0", "7.5"],
         minor=[3.75, 11.25]),
    dict(title="TP (log(ppb))", pts=merge(tp_points, tp_points_extra), lines=tp_lines, all=tp_all, log=True,
         box=(393, 595), ylim=(0.44, 208), ticks=[1, 10, 100], labels=["1", "10", "100"],
         minor=[10 ** 0.5, 10 ** 1.5]),
    dict(title="N:P (molar ratio)", pts=merge(np_points, np_points_extra), lines=np_lines, all=np_all, log=False,
         box=(677, 875), ylim=(-0.9, 18.9), ticks=[0, 5, 10, 15], labels=["0", "5", "10", "15"],
         minor=[2.5, 7.5, 12.5, 17.5]),
    dict(title="Chlorophyll-a (log(µg/L))", pts=merge(chl_points, chl_points_extra), lines=chl_lines,
         all=chl_all, log=True, box=(959, 1157), ylim=(0.774, 23.2), ticks=[1, 10], labels=["1", "10"],
         minor=[10 ** 0.5]),
    dict(title="Cyanobacterial biovolume (log(µm³/mL))",
         pts=unlog(merge(cyano_points_log10, cyano_points_extra_log10)),
         lines=unlog(cyano_lines_log10), all=unlog(cyano_all_log10), log=True,
         box=(1240, 1438), ylim=(10 ** 3.911, 10 ** 6.111), ticks=[1e4, 1e5, 1e6],
         labels=["1e+04", "1e+05", "1e+06"], minor=[10 ** 4.5, 10 ** 5.5]),
    dict(title="Total algal biovolume (log(µm³/mL))",
         pts=unlog(merge(algal_points_log10, algal_points_extra_log10)),
         lines=unlog(algal_lines_log10), all=unlog(algal_all_log10), log=True,
         box=(1522, 1722), ylim=(10 ** 5.522, 10 ** 7.261), ticks=[1e6, 1e7],
         labels=["1e+06", "1e+07"], minor=[10 ** 6.5]),
]

LEFT, RIGHT = 46, 651
GRID = "#EBEBEB"
DARK = "#333333"
LW = 4.8

fig = plt.figure(figsize=(W / 100, H / 100), dpi=100)


def fx(px):
    return px / W


def fy(py):
    return 1 - py / H


for p in panels:
    top, bot = p["box"]
    ax = fig.add_axes([fx(LEFT), fy(bot), (RIGHT - LEFT) / W, (bot - top) / H])
    if p["log"]:
        ax.set_yscale("log")
    ax.set_xlim(-5, 105)
    ax.set_ylim(*p["ylim"])

    ax.xaxis.set_major_locator(FixedLocator([0, 25, 50, 75, 100]))
    ax.xaxis.set_minor_locator(FixedLocator([12.5, 37.5, 62.5, 87.5]))
    ax.yaxis.set_major_locator(FixedLocator(p["ticks"]))
    ax.yaxis.set_minor_locator(FixedLocator(p["minor"]))
    ax.set_yticklabels(p["labels"])
    ax.xaxis.set_minor_formatter(NullFormatter())
    ax.yaxis.set_minor_formatter(NullFormatter())

    ax.grid(which="major", color=GRID, lw=2.0)
    ax.grid(which="minor", color=GRID, lw=1.1)
    ax.set_axisbelow(True)
    for s in ax.spines.values():
        s.set_color(DARK)
        s.set_linewidth(2.0)
    ax.tick_params(which="major", length=5, width=1.5, color=DARK, labelsize=14.5,
                   labelcolor="#4D4D4D", pad=4)
    ax.tick_params(which="minor", length=0)
    ax.tick_params(axis="y", labelrotation=90)
    for t in ax.yaxis.get_major_ticks():
        t.label1.set_verticalalignment("top")

    # points, drawn in day order so the site colours interleave
    xs, ys, cs = [], [], []
    for site, col in zip(sites, site_colors):
        for d, v in p["pts"].get(site, []):
            xs.append(d)
            ys.append(v)
            cs.append(col)
    order = np.argsort(xs, kind="stable")
    ax.scatter(np.array(xs)[order], np.array(ys)[order], s=30, c=[cs[i] for i in order],
               linewidths=0, zorder=2)

    for site, col in zip(sites, site_colors):
        seg = p["lines"][site]
        ax.plot([a for a, b in seg], [b for a, b in seg], color=col, lw=LW,
                solid_capstyle="butt", solid_joinstyle="round", zorder=3)
    seg = p["all"]
    ax.plot([a for a, b in seg], [b for a, b in seg], color="black", lw=LW,
            dashes=(3.6, 3.6), dash_capstyle="butt", zorder=4)

    fig.text(fx(54), fy(top - 10), p["title"], fontsize=20.5, ha="left", va="baseline")

fig.text(fx(348), fy(1782), "Days between samples", fontsize=20.5, ha="center", va="baseline")

# legend drawn in figure pixels
fig.text(fx(303), fy(34), "Site colors", fontsize=18, ha="left", va="baseline")
fig.add_artist(Line2D([fx(443), fx(516)], [fy(23), fy(23)], color="black", lw=5,
                      dashes=(4.0, 2.45), dash_capstyle="butt"))
fig.text(fx(526), fy(23), "all data", fontsize=14, ha="left", va="center")
key_x = [302, 400, 494, 587]
for i, (site, col) in enumerate(zip(sites, site_colors)):
    row_y = 57 if i < 4 else 86
    kx = key_x[i % 4]
    fig.add_artist(Line2D([fx(kx), fx(kx + 35)], [fy(row_y), fy(row_y)], color=col, lw=5,
                          solid_capstyle="butt"))
    fig.text(fx(kx + 42), fy(row_y), site, fontsize=14, ha="left", va="center")

fig.savefig("out.png", dpi=100)
